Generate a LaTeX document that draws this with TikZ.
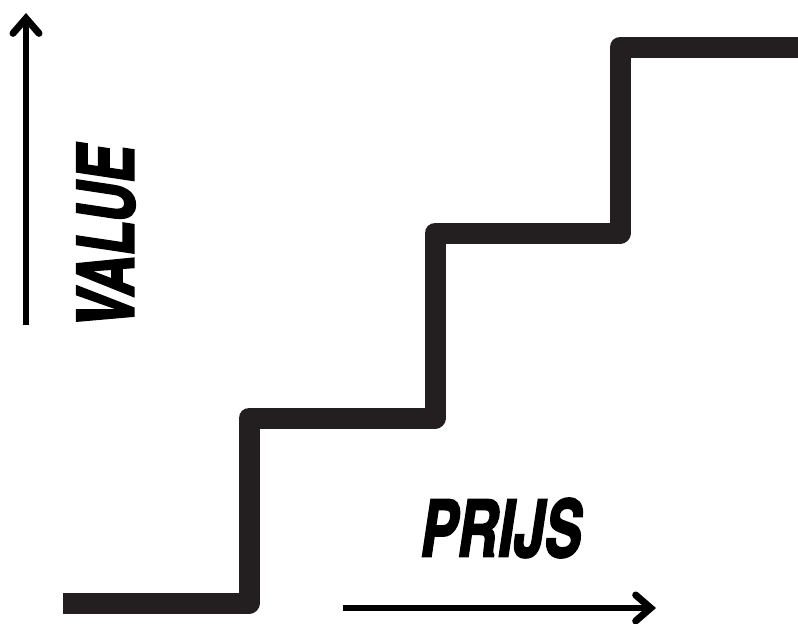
\documentclass[tikz,border=0pt]{standalone}
\usepackage{fontspec}
\newfontfamily\axisfont[Extension=.otf, FakeBold=2.5]{texgyreheroscn-bolditalic}
\usetikzlibrary{arrows.meta}
\definecolor{stairgray}{HTML}{231F20}
\tikzset{
  stairs/.style={line width=0.42cm, color=stairgray, line join=round, line cap=butt},
  axis/.style={line width=0.12cm, -{Straight Barb[length=0.3cm, width=0.52cm, line width=0.14cm, line cap=round]}},
  axislabel/.style={font=\axisfont\fontsize{45}{45}\selectfont, inner sep=0pt, xscale=0.86, transform shape}
}
\begin{document}
\begin{tikzpicture}[x=0.02cm, y=-0.02cm]
  \useasboundingbox (0,0) rectangle (798,623);
  % the steps
  \draw [stairs] (63,603) -- (249,603) -- (249,418) -- (435,418) -- (435,233)
    -- (620,233) -- (620,47) -- (798,47);
  % value axis
  \coordinate (vfoot) at (26,325);
  \coordinate (vtip) at (26,13);
  \draw [axis] (vfoot) -- (vtip);
  \node [rotate=90, axislabel] (value) at (106,237) {VALUE};
  % price axis
  \coordinate (pfoot) at (343,608);
  \coordinate (ptip) at (656,608);
  \draw [axis] (pfoot) -- (ptip);
  \node [axislabel] (prijs) at (501,528) {PRIJS};
\end{tikzpicture}
\end{document}
